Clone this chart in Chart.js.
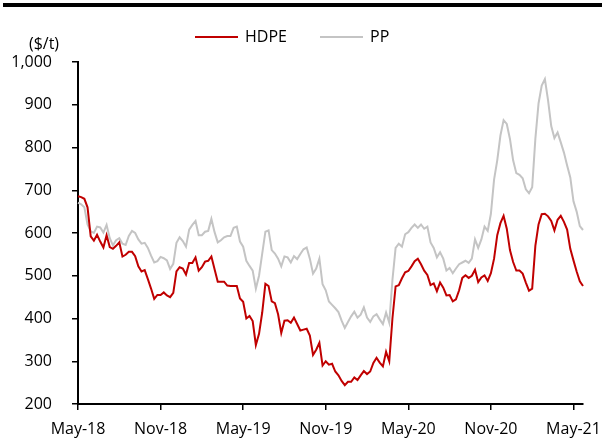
<!DOCTYPE html>
<html>
<head>
<meta charset="utf-8">
<script src="https://cdn.jsdelivr.net/npm/chart.js@4.4.1/dist/chart.umd.min.js"></script>
<style>
    html, body { margin: 0; padding: 0; background: #fff; }
    #wrap { position: relative; width: 602px; height: 448px; }
    #topbar { position: absolute; left: 3px; right: 0; top: 3px; height: 4px; background: #000; }
    canvas { position: absolute; left: 0; top: 0; }
</style>
</head>
<body>
<div id="wrap">
    <canvas id="myChart" width="602" height="448"></canvas>
    <div id="topbar"></div>
</div>
<script>
// weekly prices, $/t, starting May-18
const hdpe = [686,684,680,660,592,582,596,580,566,595,567,563,570,578,545,549,556,556,546,522,
    510,513,492,470,446,455,455,461,454,450,460,510,520,517,503,530,530,543,512,520,
    533,535,545,515,486,486,486,477,476,476,476,447,439,400,406,394,338,364,414,481,
    476,440,436,410,366,395,396,390,402,387,372,374,376,360,315,327,343,290,300,292,
    294,276,267,254,244,252,252,262,256,267,277,270,276,296,308,297,288,322,300,400,
    475,478,494,508,511,522,534,540,527,512,502,478,482,464,484,472,454,455,440,445,
    466,495,501,495,500,514,485,496,501,488,506,540,595,623,640,610,560,532,512,512,
    505,484,465,470,570,620,644,645,639,628,606,631,640,626,608,563,536,510,487,476];

const pp = [671,667,660,620,604,600,615,613,601,619,588,571,583,588,575,572,593,605,600,585,
    575,577,565,547,531,534,544,541,536,516,528,577,590,581,568,608,619,628,595,595,
    603,605,633,602,578,583,590,593,593,612,615,580,568,535,523,512,470,500,552,603,
    606,560,552,540,522,545,543,531,546,539,551,562,566,540,505,517,540,480,466,440,
    432,424,415,395,378,392,405,416,402,409,426,402,392,405,410,398,387,414,390,490,
    565,575,568,597,602,612,620,612,620,610,615,578,565,543,555,540,512,518,506,517,
    527,531,535,530,540,585,565,585,615,605,645,725,770,828,864,855,820,770,740,736,
    728,702,693,707,820,903,945,960,910,850,822,835,812,788,758,730,674,650,616,607];

const tickLabels = ['May-18', 'Nov-18', 'May-19', 'Nov-19', 'May-20', 'Nov-20', 'May-21'];
const weeksPerTick = 26;

const weeks = [];
const start = new Date(Date.UTC(2018, 4, 1));
for (let i = 0; i < hdpe.length; i++) {
    const d = new Date(start.getTime() + i * 7 * 86400000);
    weeks.push(d.toISOString().slice(0, 10));
}

const FONT = '"Open Sans", "DejaVu Sans", sans-serif';

// legend and unit label, drawn on the canvas
const extras = {
    id: 'extras',
    afterDraw(chart) {
        const ctx = chart.ctx;
        ctx.save();
        ctx.font = '16px ' + FONT;
        ctx.fillStyle = '#000';
        ctx.textBaseline = 'middle';
        ctx.textAlign = 'center';
        ctx.fillText('($/t)', 44, 44);

        const legendX = [195, 320];
        chart.data.datasets.forEach((ds, i) => {
            const x = legendX[i];
            ctx.strokeStyle = ds.borderColor;
            ctx.lineWidth = 2;
            ctx.beginPath();
            ctx.moveTo(x, 37);
            ctx.lineTo(x + 43, 37);
            ctx.stroke();
            ctx.textAlign = 'left';
            ctx.fillText(ds.label, x + 50, 37);
        });
        ctx.restore();
    }
};

new Chart(document.getElementById('myChart').getContext('2d'), {
    type: 'line',
    data: {
        labels: weeks,
        datasets: [{
            label: 'HDPE',
            data: hdpe,
            borderColor: '#c00000',
            backgroundColor: '#c00000',
            borderWidth: 2,
            pointRadius: 0,
            tension: 0
        }, {
            label: 'PP',
            data: pp,
            borderColor: '#c4c4c4',
            backgroundColor: '#c4c4c4',
            borderWidth: 2,
            pointRadius: 0,
            tension: 0
        }]
    },
    options: {
        responsive: false,
        animation: false,
        layout: { padding: { top: 62, right: 19, bottom: 0, left: 0 } },
        plugins: {
            legend: { display: false },
            tooltip: { enabled: false }
        },
        scales: {
            x: {
                grid: {
                    drawOnChartArea: false,
                    color: '#000',
                    tickLength: 6,
                    lineWidth: 1.5
                },
                border: { color: '#000', width: 2 },
                ticks: {
                    autoSkip: false,
                    maxRotation: 0,
                    padding: 10,
                    color: '#000',
                    font: { family: FONT, size: 16 },
                    callback: (val, idx) => idx % weeksPerTick === 0 ? tickLabels[idx / weeksPerTick] : null
                },
                afterFit: scale => {
                    scale.height = 44;
                    scale.paddingLeft = 0;
                    scale.paddingRight = 0;
                }
            },
            y: {
                min: 200,
                max: 1000,
                grid: {
                    drawOnChartArea: false,
                    color: '#000',
                    tickLength: 6,
                    lineWidth: 1.5
                },
                border: { color: '#000', width: 2 },
                ticks: {
                    stepSize: 100,
                    padding: 20,
                    color: '#000',
                    font: { family: FONT, size: 16 },
                    callback: v => v.toLocaleString('en-US')
                },
                afterFit: scale => { scale.width = 78; }
            }
        }
    },
    plugins: [extras]
});
</script>
</body>
</html>
